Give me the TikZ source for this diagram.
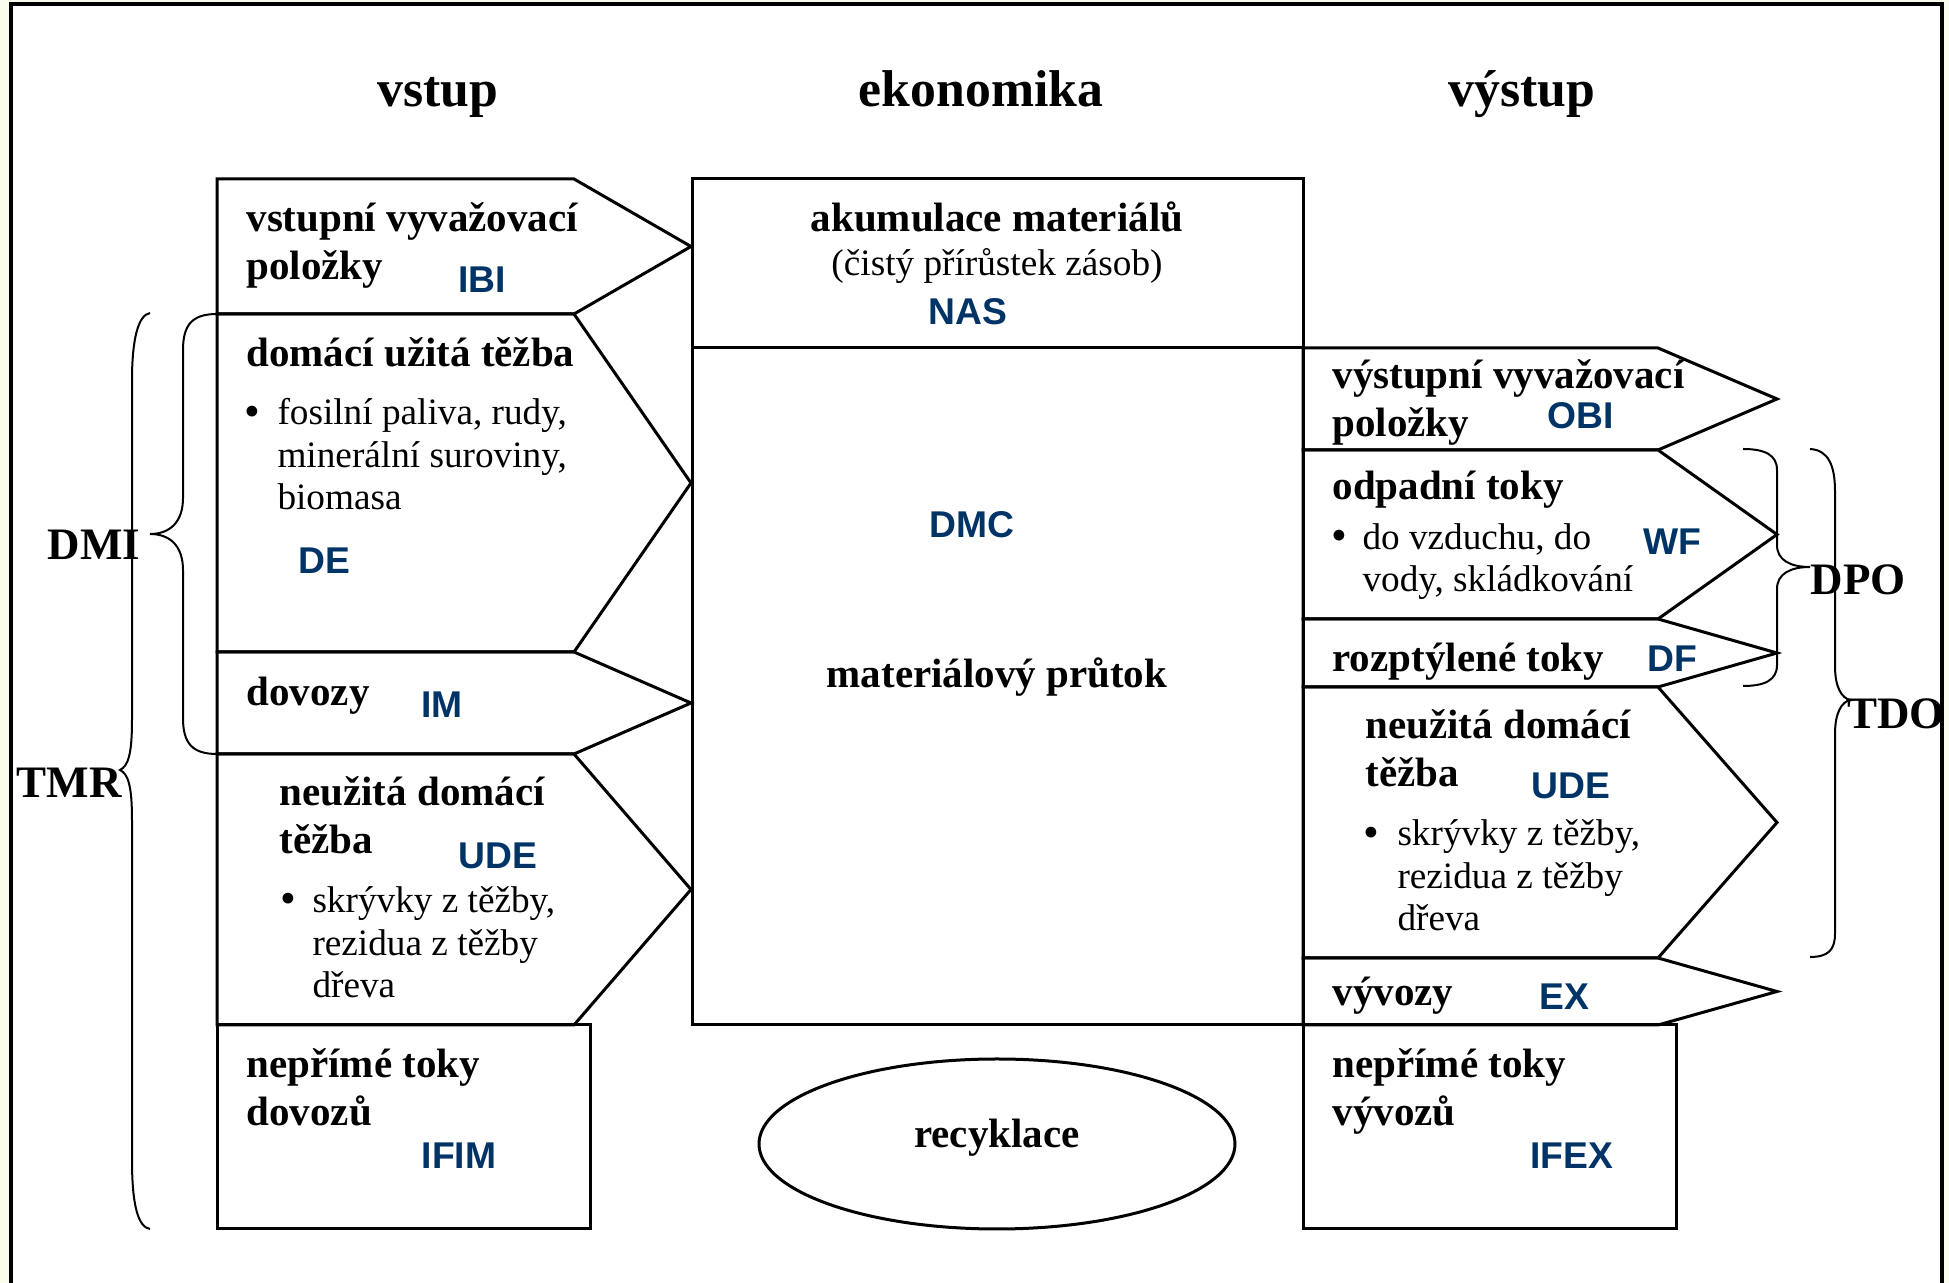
\documentclass[tikz,border=0pt]{standalone}
\usepackage{fontspec}
\setmainfont{Liberation Serif}
\newfontfamily\abbrfont{Liberation Sans}
\definecolor{pagebg}{RGB}{250,251,235}
\definecolor{abbrblue}{RGB}{0,51,102}

\begin{document}
\begin{tikzpicture}[x=0.4pt,y=-0.4pt,
    frame/.style={line width=1.4pt},
    box/.style={line width=1.2pt,line join=miter},
    brace/.style={line width=0.8pt},
    title/.style={font=\fontsize{20.7}{24}\selectfont\bfseries,anchor=base,inner sep=0pt},
    bold/.style={font=\fontsize{16.4}{19.4}\selectfont\bfseries,anchor=base west,align=left,inner sep=0pt},
    plain/.style={font=\fontsize{14.9}{17}\selectfont,anchor=base west,align=left,inner sep=0pt},
    itemdot/.style={font=\fontsize{18}{20}\selectfont,anchor=base,inner sep=0pt},
    abbr/.style={font=\fontsize{14.9}{17}\abbrfont\bfseries,text=abbrblue,inner sep=0pt},
    total/.style={font=\fontsize{18}{21}\selectfont\bfseries,anchor=base,inner sep=0pt}]
    \useasboundingbox (0,0) rectangle (1949,1283);
    \fill[pagebg] (0,0) rectangle (1949,1283);
    \draw[frame,fill=white] (11,1283) -- (11,4) -- (1942,4) -- (1942,1283);

    % nadpisy
    \node[title] (vstup) at (438,107) {vstup};
    \node[title] (ekonomika) at (981,107) {ekonomika};
    \node[title] (vystup) at (1522,107) {výstup};

    % vstup (base = posledni radek)
    \draw[box] (217,179) -- (574,179) -- (691,246.5) -- (574,314) -- (217,314) -- cycle;
    \draw[box] (217,314) -- (574,314) -- (691,483) -- (574,652) -- (217,652) -- cycle;
    \draw[box] (217,652) -- (574,652) -- (691,703) -- (574,754) -- (217,754) -- cycle;
    \draw[box] (217,754) -- (574,754) -- (691,889.5) -- (574,1025) -- (217,1025) -- cycle;
    \draw[box] (217,1025) rectangle (590,1229);

    \node[bold] (ibitext) at (246,280) {vstupní vyvažovací\\položky};
    \node[abbr] (ibi) at (482,280) {IBI};
    \node[bold] (detext) at (246,367) {domácí užitá těžba};
    \node[itemdot] (dedot) at (252,427) {•};
    \node[plain] (deitem) at (277,510) {fosilní paliva, rudy,\\minerální suroviny,\\biomasa};
    \node[abbr] (de) at (324,561) {DE};
    \node[bold] (imtext) at (246,706) {dovozy};
    \node[abbr] (im) at (442,705) {IM};
    \node[bold] (udetext) at (279,854) {neužitá domácí\\těžba};
    \node[abbr] (ude) at (498,856) {UDE};
    \node[itemdot] (udedot) at (288,914) {•};
    \node[plain] (udeitem) at (312,998) {skrývky z těžby,\\rezidua z těžby\\dřeva};
    \node[bold] (ifimtext) at (246,1126) {nepřímé toky\\dovozů};
    \node[abbr] (ifim) at (459,1156) {IFIM};

    % ekonomika
    \draw[box] (692,179) rectangle (1303,1025);
    \draw[box] (692,348) -- (1303,348);
    \node[bold,anchor=base] (nastext) at (997,232) {akumulace materiálů};
    \node[plain,anchor=base] (nasnote) at (997,276) {(čistý přírůstek zásob)};
    \node[abbr] (nas) at (968,312) {NAS};
    \node[abbr] (dmc) at (972,525) {DMC};
    \node[bold,anchor=base] (prutok) at (997,688) {materiálový průtok};
    \draw[box] (997,1144) ellipse [x radius=238, y radius=85];
    \node[bold,anchor=base] (recyklace) at (997,1148) {recyklace};

    % vystup
    \draw[box] (1303,348) -- (1658,348) -- (1777,399) -- (1658,450) -- (1303,450) -- cycle;
    \draw[box] (1303,450) -- (1658,450) -- (1777,534.5) -- (1658,619) -- (1303,619) -- cycle;
    \draw[box] (1303,619) -- (1658,619) -- (1777,653) -- (1658,687) -- (1303,687) -- cycle;
    \draw[box] (1303,687) -- (1658,687) -- (1777,822.5) -- (1658,958) -- (1303,958) -- cycle;
    \draw[box] (1303,958) -- (1658,958) -- (1777,991.5) -- (1658,1025) -- (1303,1025) -- cycle;
    \draw[box] (1303,1025) rectangle (1676,1229);

    \node[bold] (obitext) at (1332,437) {výstupní vyvažovací\\položky};
    \node[abbr] (obi) at (1581,416) {OBI};
    \node[bold] (wftext) at (1332,500) {odpadní toky};
    \node[itemdot] (wfdot) at (1339,551) {•};
    \node[plain] (wfitem) at (1362,592) {do vzduchu, do\\vody, skládkování};
    \node[abbr] (wf) at (1672,542) {WF};
    \node[bold] (dftext) at (1332,672) {rozptýlené toky};
    \node[abbr] (df) at (1672,659) {DF};
    \node[bold] (udeotext) at (1365,787) {neužitá domácí\\těžba};
    \node[abbr] (udeo) at (1571,786) {UDE};
    \node[itemdot] (udeodot) at (1371,848) {•};
    \node[plain] (udeoitem) at (1397,931) {skrývky z těžby,\\rezidua z těžby\\dřeva};
    \node[bold] (extext) at (1332,1006) {vývozy};
    \node[abbr] (ex) at (1564,997) {EX};
    \node[bold] (ifextext) at (1332,1126) {nepřímé toky\\vývozů};
    \node[abbr] (ifex) at (1572,1156) {IFEX};

    % zavorky
    \draw[brace] (217,314) .. controls (192,314) and (183,325) .. (183,350) -- (183,498) .. controls (183,522) and (170,534) .. (150,534) .. controls (170,534) and (183,546) .. (183,570) -- (183,718) .. controls (183,743) and (192,754) .. (217,754);
    \draw[brace] (150,313) .. controls (138,315) and (132,340) .. (132,380) -- (132,720) .. controls (132,755) and (128,766) .. (120,770) .. controls (128,774) and (132,785) .. (132,820) -- (132,1160) .. controls (132,1205) and (138,1227) .. (150,1229);
    \draw[brace] (1743,449) .. controls (1765,449) and (1777,455) .. (1777,470) -- (1777,545) .. controls (1777,560) and (1790,567) .. (1810,567) .. controls (1790,567) and (1777,574) .. (1777,589) -- (1777,665) .. controls (1777,680) and (1765,686) .. (1743,686);
    \draw[brace] (1810,449) .. controls (1828,450) and (1835,465) .. (1835,491) -- (1835,666) .. controls (1835,688) and (1842,698) .. (1850,700) .. controls (1842,702) and (1835,712) .. (1835,734) -- (1835,934) .. controls (1835,950) and (1828,957) .. (1810,957);
    \node[total] (dmi) at (94,560) {DMI};
    \node[total] (tmr) at (69,798) {TMR};
    \node[total] (dpo) at (1858,595) {DPO};
    \node[total] (tdo) at (1896,729) {TDO};
\end{tikzpicture}
\end{document}
